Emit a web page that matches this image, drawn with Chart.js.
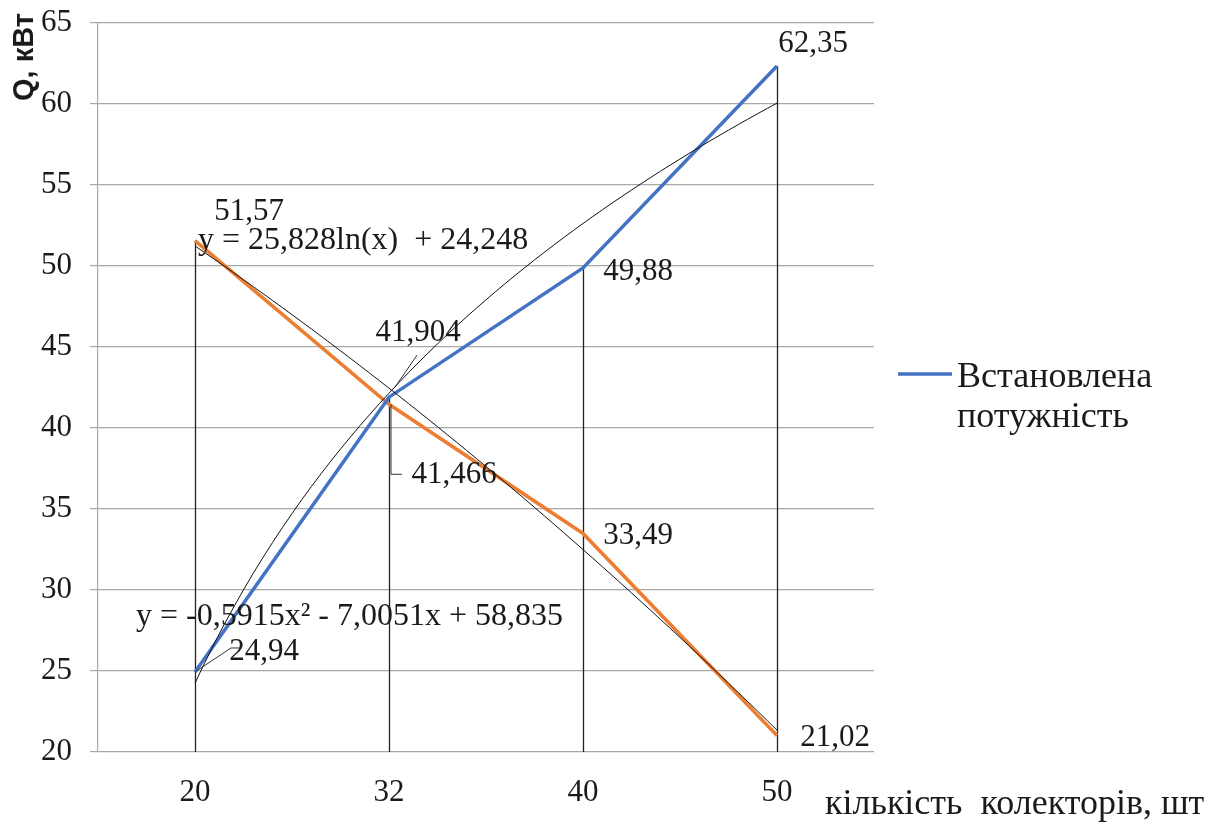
<!DOCTYPE html>
<html>
<head>
<meta charset="utf-8">
<script src="https://cdn.jsdelivr.net/npm/chart.js@4/dist/chart.umd.min.js"></script>
<style>
  html, body { margin: 0; padding: 0; background: #fff; }
</style>
</head>
<body>
<canvas id="chart" width="1222" height="825"></canvas>
<script>
// Chart data
const categories = ['20', '32', '40', '50'];
const installedPower = [24.94, 41.904, 49.88, 62.35];
const secondSeries = [51.57, 41.466, 33.49, 21.02];
const installedLabels = ['24,94', '41,904', '49,88', '62,35'];
const secondLabels = ['51,57', '41,466', '33,49', '21,02'];

// Trendlines as shown on the chart (x = category number 1..4)
const logTrend = { a: 25.828, b: 24.248 };
const polyTrend = { a: -0.5915, b: -7.0051, c: 58.835 };
const logEquation = 'y = 25,828ln(x)  + 24,248';
const polyEquation = 'y = -0,5915x² - 7,0051x + 58,835';

const legendText = ['Встановлена', 'потужність'];
const yTitle = 'Q, кВт';
const xTitle = 'кількість  колекторів, шт';

const BLUE = '#4472C4';
const ORANGE = '#ED7D31';
const SERIF = '"Liberation Serif", "Times New Roman", serif';
const TEXT = '#1a1a1a';

const toPoints = arr => arr.map((y, i) => ({ x: i + 1, y }));
const trendX = Array.from({ length: 61 }, (_, i) => 1 + i * 0.05);
const logPoints = trendX.map(x => ({ x, y: logTrend.a * Math.log(x) + logTrend.b }));
const polyPoints = trendX.map(x => ({ x, y: polyTrend.a * x * x + polyTrend.b * x + polyTrend.c }));

// Drop lines, labels, titles, legend
const extras = {
  id: 'extras',
  beforeDatasetsDraw(chart) {
    const { ctx, scales: { x, y } } = chart;
    ctx.save();
    ctx.strokeStyle = '#222';
    ctx.lineWidth = 1.3;
    categories.forEach((c, i) => {
      const top = Math.max(installedPower[i], secondSeries[i]);
      const px = Math.round(x.getPixelForValue(i + 1)) + 0.5;
      ctx.beginPath();
      ctx.moveTo(px, y.getPixelForValue(top));
      ctx.lineTo(px, y.bottom);
      ctx.stroke();
    });
    ctx.restore();
  },
  afterDraw(chart) {
    const { ctx } = chart;
    const blue = chart.getDatasetMeta(0).data;
    const orange = chart.getDatasetMeta(1).data;
    ctx.save();
    ctx.fillStyle = TEXT;
    ctx.textBaseline = 'middle';
    ctx.textAlign = 'center';
    ctx.font = '31px ' + SERIF;

    const blueOffsets = [[69, -20], [29, -64], [55, 4], [36, -22]];
    const orangeOffsets = [[54, -29], [65, 71], [55, 2], [58, 2]];
    blue.forEach((p, i) => ctx.fillText(installedLabels[i], p.x + blueOffsets[i][0], p.y + blueOffsets[i][1]));
    orange.forEach((p, i) => ctx.fillText(secondLabels[i], p.x + orangeOffsets[i][0], p.y + orangeOffsets[i][1]));

    // leader lines
    ctx.strokeStyle = '#333';
    ctx.lineWidth = 1;
    const b0 = blue[0], b1 = blue[1], o1 = orange[1];
    ctx.beginPath();
    ctx.moveTo(b0.x, b0.y);
    ctx.lineTo(b0.x + 36, b0.y - 24);
    ctx.lineTo(b0.x + 46, b0.y - 24);
    ctx.moveTo(b1.x + 6, b1.y - 10);
    ctx.lineTo(b1.x + 28, b1.y - 42);
    ctx.moveTo(o1.x + 2, o1.y);
    ctx.lineTo(o1.x + 2, o1.y + 70);
    ctx.lineTo(o1.x + 13, o1.y + 70);
    ctx.stroke();

    // trendline equations
    ctx.textAlign = 'left';
    ctx.font = '32px ' + SERIF;
    ctx.fillText(logEquation, 198, 241);
    ctx.fillText(polyEquation, 136, 617);

    // axis titles
    ctx.font = '36px ' + SERIF;
    ctx.fillText(xTitle, 825, 805);
    ctx.save();
    ctx.translate(25, 57);
    ctx.rotate(-Math.PI / 2);
    ctx.textAlign = 'center';
    ctx.font = 'bold 29px "Liberation Sans", Arial, sans-serif';
    ctx.fillText(yTitle, 0, 0);
    ctx.restore();

    // legend
    ctx.strokeStyle = BLUE;
    ctx.lineWidth = 3.5;
    ctx.beginPath();
    ctx.moveTo(898, 374);
    ctx.lineTo(952, 374);
    ctx.stroke();
    ctx.font = '36px ' + SERIF;
    ctx.fillText(legendText[0], 957, 378);
    ctx.fillText(legendText[1], 957, 418);
    ctx.restore();
  }
};

new Chart(document.getElementById('chart'), {
  type: 'line',
  data: {
    datasets: [
      { label: 'Встановлена потужність', data: toPoints(installedPower), borderColor: BLUE, borderWidth: 3.5, pointRadius: 0, order: 2 },
      { label: 'series2', data: toPoints(secondSeries), borderColor: ORANGE, borderWidth: 3.5, pointRadius: 0, order: 2 },
      { label: 'log', data: logPoints, borderColor: '#111', borderWidth: 1, pointRadius: 0, order: 1 },
      { label: 'poly', data: polyPoints, borderColor: '#111', borderWidth: 1, pointRadius: 0, order: 1 }
    ]
  },
  options: {
    responsive: false,
    animation: false,
    devicePixelRatio: 1,
    layout: { padding: { left: 0, top: 23, right: 348, bottom: 0 } },
    plugins: { legend: { display: false }, tooltip: { enabled: false } },
    scales: {
      x: {
        type: 'linear',
        min: 0.5,
        max: 4.5,
        afterBuildTicks: scale => { scale.ticks = categories.map((c, i) => ({ value: i + 1 })); },
        afterFit: scale => { scale.height = 73; scale.paddingLeft = 0; scale.paddingRight = 0; },
        grid: { display: false },
        border: { display: false },
        ticks: { callback: v => categories[v - 1], font: { family: SERIF, size: 31 }, color: TEXT, padding: 14, maxRotation: 0, autoSkip: false }
      },
      y: {
        min: 20,
        max: 65,
        afterFit: scale => { scale.width = 98; scale.paddingTop = 0; scale.paddingBottom = 0; },
        grid: { color: '#a8a8a8', lineWidth: 1.2, tickLength: 8 },
        border: { color: '#a8a8a8', width: 1.2 },
        ticks: { stepSize: 5, font: { family: SERIF, size: 31 }, color: TEXT, padding: 18 }
      }
    }
  },
  plugins: [extras]
});
</script>
</body>
</html>
